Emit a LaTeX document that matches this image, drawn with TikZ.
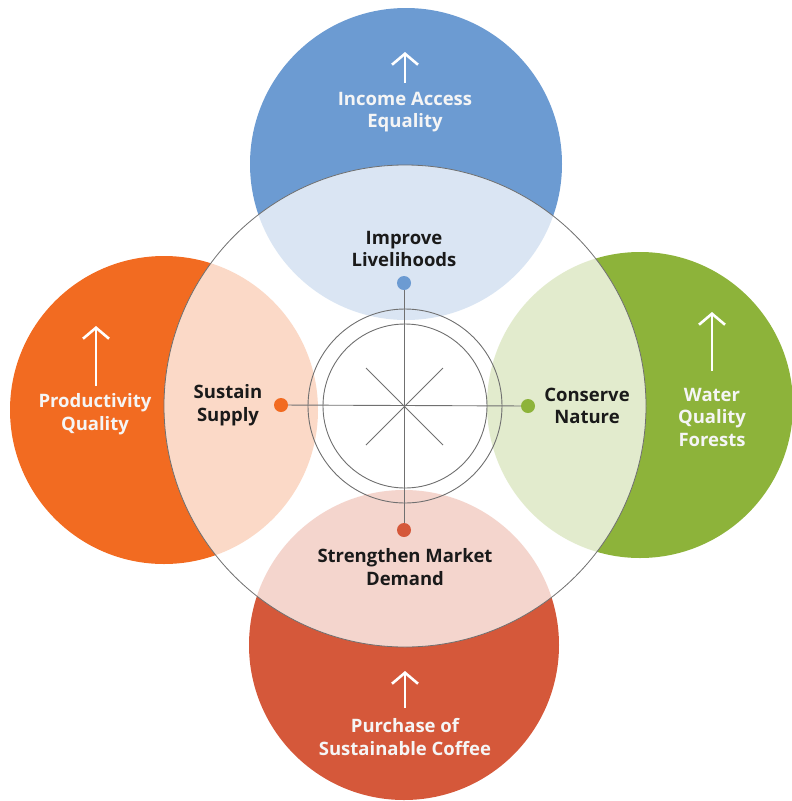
\documentclass[tikz,border=0pt]{standalone}
\usepackage{fontspec}
\setmainfont{Open Sans}
\usetikzlibrary{arrows.meta}
\definecolor{cblue}{HTML}{6C9BD2}
\definecolor{corange}{HTML}{F26B21}
\definecolor{cgreen}{HTML}{8DB33A}
\definecolor{cred}{HTML}{D5583A}
\definecolor{cgray}{HTML}{707070}
\definecolor{ctext}{HTML}{1A1A1A}
\tikzset{
  lbl/.style={font=\fontsize{18.5}{22.5}\selectfont\bfseries, align=center, text=ctext, inner sep=0pt},
  wlbl/.style={font=\fontsize{18.5}{22.5}\selectfont\bfseries, align=center, text=white!96!black, inner sep=0pt},
  gline/.style={draw=cgray, line width=0.9pt},
  upar/.style={draw=white, line width=2.6pt, -{Straight Barb[length=11pt,width=26pt,line width=2.6pt]}},
  dotn/.style={circle, inner sep=0pt, minimum size=14pt}
}
\begin{document}
\begin{tikzpicture}[x=1pt,y=-1pt]
\useasboundingbox (0,0) rectangle (792,801);
% satellite circles
\fill[cblue] (406,164) circle (156);
\fill[corange] (164,410) circle (154);
\fill[cgreen] (640,405) circle (153);
\fill[cred] (404,645) circle (155);
% central circle overlay
\fill[white, opacity=0.75] (405,406) circle (241);
\draw[gline, line width=0.8pt] (405,406) circle (241);
% inner circles
\draw[gline] (405,406) circle (97);
\draw[gline] (405,406) circle (82);
% dots
\node[dotn, fill=cblue] (dT) at (404,283) {};
\node[dotn, fill=cred] (dB) at (404,530) {};
\node[dotn, fill=corange] (dL) at (281,405) {};
\node[dotn, fill=cgreen] (dR) at (528,406) {};
\draw[gline] (dT) -- (dB);
\draw[gline] (dL) -- (dR);
% X lines
\coordinate (x1) at (366,368);
\coordinate (x2) at (443,445);
\coordinate (x3) at (443,368);
\coordinate (x4) at (366,445);
\draw[gline] (x1) -- (x2);
\draw[gline] (x3) -- (x4);
% inner labels
\node[lbl] (tL) at (404,249) {Improve\\Livelihoods};
\node[lbl] (sL) at (228,405) {Sustain\\Supply};
\node[lbl] (cL) at (587,406) {Conserve\\Nature};
\node[lbl] (mL) at (405,567) {Strengthen Market\\Demand};
% outer labels
\node[wlbl] (tO) at (405,112) {Income Access\\Equality};
\node[wlbl] (lO) at (95,414) {Productivity\\Quality};
\node[wlbl] (rO) at (712,417) {Water\\Quality\\Forests};
\node[wlbl] (bO) at (405,737) {Purchase of\\Sustainable Coffee};
% arrows
\coordinate (tA1) at (405,83); \coordinate (tA2) at (405,52);
\coordinate (lA1) at (96,386); \coordinate (lA2) at (96,326);
\coordinate (rA1) at (712,371); \coordinate (rA2) at (712,312);
\coordinate (bA1) at (405,708); \coordinate (bA2) at (405,671);
\draw[upar] (tA1) -- (tA2);
\draw[upar] (lA1) -- (lA2);
\draw[upar] (rA1) -- (rA2);
\draw[upar] (bA1) -- (bA2);
\end{tikzpicture}
\end{document}
